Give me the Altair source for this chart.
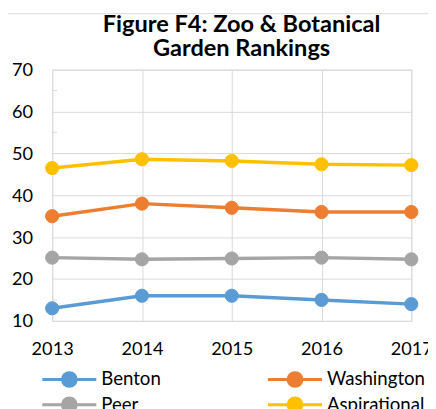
import altair as alt
import pandas as pd

years = [2013, 2014, 2015, 2016, 2017]
series = ["Benton", "Washington", "Peer", "Aspirational"]
benton = [13, 16, 16, 15, 14]
washington = [35, 38, 37, 36, 36]
peer = [25.1, 24.7, 24.9, 25.1, 24.7]
aspirational = [46.5, 48.6, 48.2, 47.4, 47.2]
colors = ["#5B9BD5", "#ED7D31", "#A5A5A5", "#FFC000"]
y_ticks = [10, 20, 30, 40, 50, 60, 70]
minor_ticks = [15, 25, 35, 45, 55, 65]
title_lines = ["Figure F4: Zoo & Botanical", "Garden Rankings"]

values = {"Benton": benton, "Washington": washington, "Peer": peer, "Aspirational": aspirational}
rows = []
for s in series:
    for yr, v in zip(years, values[s]):
        rows.append({"year": yr, "series": s, "value": v})
df = pd.DataFrame(rows)
minor_df = pd.DataFrame({"minor": minor_ticks})
frame_df = pd.DataFrame({"k": [0]})

FONT = "Lato"
GRID = "#D9D9D9"

x_enc = alt.X(
    "year:Q",
    scale=alt.Scale(domain=[years[0], years[-1]], nice=False, zero=False),
    axis=alt.Axis(values=years, format="d", title=None, grid=True, gridColor=GRID,
                  domain=False, ticks=False, labelFont=FONT, labelFontSize=18.5,
                  labelColor="#000000", labelPadding=19, labelFlush=False),
)
y_enc = alt.Y(
    "value:Q",
    scale=alt.Scale(domain=[10, 70], nice=False, zero=False),
    axis=alt.Axis(values=y_ticks, title=None, grid=True, gridColor=GRID,
                  domain=False, ticks=False, labelFont=FONT, labelFontSize=18.5,
                  labelColor="#000000", labelPadding=20),
)

# custom legend symbol: line with a dot in the middle (unit = 10px at symbolSize 400)
legend_path = "M-2.75,0H2.75M0.7,0A0.7,0.7,0,1,1,-0.7,0A0.7,0.7,0,1,1,0.7,0Z"
leg = alt.Legend(
    title=None, orient="none", legendX=6, legendY=304, columns=2, direction="horizontal",
    columnPadding=103, rowPadding=-1, padding=0,
    symbolType=legend_path, symbolSize=400, symbolStrokeWidth=3,
    labelFont=FONT, labelFontSize=19, labelColor="#000000", labelOffset=21,
)
color_enc = alt.Color("series:N", scale=alt.Scale(domain=series, range=colors), sort=series, legend=leg)
fill_enc = alt.Fill("series:N", scale=alt.Scale(domain=series, range=colors), sort=series, legend=leg)

frame = alt.Chart(frame_df).mark_rect(fill="transparent", stroke=GRID, strokeWidth=1).encode(
    x=alt.value(-46), x2=alt.value(1000), y=alt.value(-57), y2=alt.value(1000)
)
minor = alt.Chart(minor_df).mark_rule(color=GRID, strokeWidth=1).encode(
    x=alt.value(0), x2=alt.value(5), y=alt.Y("minor:Q")
)
lines = alt.Chart(df).mark_line(strokeWidth=3.5).encode(x=x_enc, y=y_enc, color=color_enc)
points = alt.Chart(df).mark_point(filled=False, size=180, strokeWidth=1, opacity=1).encode(
    x=x_enc, y=y_enc, color=color_enc, fill=fill_enc
)

chart = alt.layer(frame, minor, lines, points).properties(
    width=366, height=256,
    padding={"left": 45, "top": 59, "right": 17, "bottom": 86},
    autosize=alt.AutoSizeParams(type="none"),
    title=alt.Title(title_lines, font=FONT, fontSize=24, fontWeight="bold", color="#000000",
                    anchor="middle", frame="group", dx=10, offset=-73, lineHeight=24.5,
                    baseline="bottom"),
).configure_view(stroke=GRID)

chart.save("out.html", embed_options={"renderer": "svg", "actions": False})
